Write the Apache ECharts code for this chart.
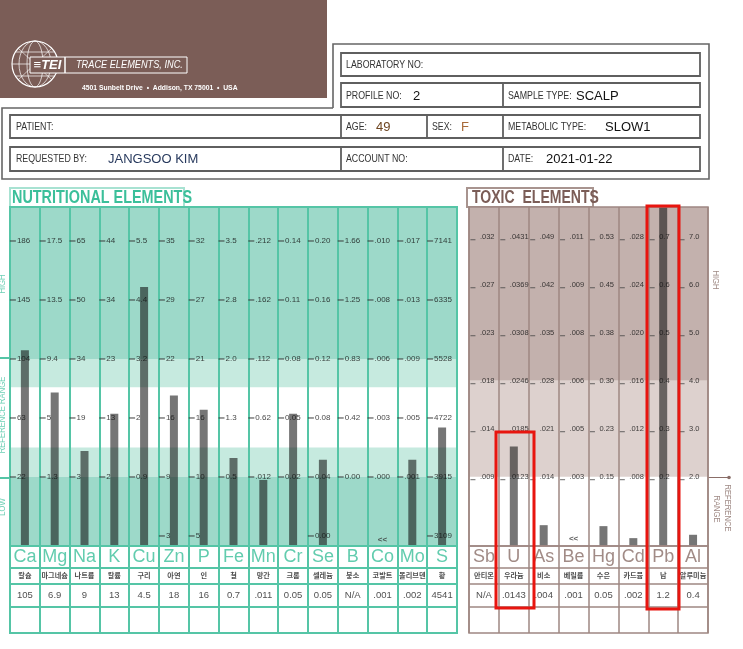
<!DOCTYPE html>
<html>
<head>
<meta charset="utf-8">
<title>Hair mineral analysis</title>
<script src="https://cdn.jsdelivr.net/npm/echarts@6/dist/echarts.min.js"></script>
<style>
  html, body { margin: 0; padding: 0; background: #fff; }
  #chart { width: 743px; height: 649px; }
</style>
</head>
<body>
<div id="chart"></div>
<script>
// ---- nutritional elements ----
const nutSymbols = ['Ca', 'Mg', 'Na', 'K', 'Cu', 'Zn', 'P', 'Fe', 'Mn', 'Cr', 'Se', 'B', 'Co', 'Mo', 'S'];
const nutKorean = ['칼슘', '마그네슘', '나트륨', '칼륨', '구리', '아연', '인', '철', '망간', '크롬', '셀레늄', '붕소', '코발트', '몰리브덴', '황'];
const nutResults = ['105', '6.9', '9', '13', '4.5', '18', '16', '0.7', '.011', '0.05', '0.05', 'N/A', '.001', '.002', '4541'];
// bar tops, in row units (row 2 = "22" line of Ca, row 6 = "186" line)
const nutLevels = [4.15, 3.43, 2.44, 3.07, 5.22, 3.38, 3.14, 2.32, 1.95, 3.07, 2.29, null, null, 2.29, 2.84];
// printed scale of every column, rows 6 -> 2
const nutTicks = [
  ['186', '145', '104', '63', '22'],
  ['17.5', '13.5', '9.4', '5', '1.3'],
  ['65', '50', '34', '19', '3'],
  ['44', '34', '23', '13', '2'],
  ['5.5', '4.4', '3.2', '2', '0.9'],
  ['35', '29', '22', '16', '9'],
  ['32', '27', '21', '16', '10'],
  ['3.5', '2.8', '2.0', '1.3', '0.5'],
  ['.212', '.162', '.112', '0.62', '.012'],
  ['0.14', '0.11', '0.08', '0.05', '0.02'],
  ['0.20', '0.16', '0.12', '0.08', '0.04'],
  ['1.66', '1.25', '0.83', '0.42', '0.00'],
  ['.010', '.008', '.006', '.003', '.000'],
  ['.017', '.013', '.009', '.005', '.001'],
  ['7141', '6335', '5528', '4722', '3915']
];
// row 1 labels, only printed on a few columns
const nutLowTicks = ['', '', '', '', '', '3', '5', '', '', '', '0.00', '', '', '', '3109'];
const nutBelow = ['', '', '', '', '', '', '', '', '', '', '', '', '<<', '', ''];

// ---- toxic elements ----
const toxSymbols = ['Sb', 'U', 'As', 'Be', 'Hg', 'Cd', 'Pb', 'Al'];
const toxKorean = ['안티몬', '우라늄', '비소', '베릴륨', '수은', '카드뮴', '납', '알루미늄'];
const toxResults = ['N/A', '.0143', '.004', '.001', '0.05', '.002', '1.2', '0.4'];
// bar tops in row units (row 2 = "2.0" line of Al, row 7 = "7.0")
const toxLevels = [null, 2.63, 0.99, null, 0.97, 0.72, 12, 0.79];
// rows 7 -> 2
const toxTicks = [
  ['.032', '.027', '.023', '.018', '.014', '.009'],
  ['.0431', '.0369', '.0308', '.0246', '.0185', '.0123'],
  ['.049', '.042', '.035', '.028', '.021', '.014'],
  ['.011', '.009', '.008', '.006', '.005', '.003'],
  ['0.53', '0.45', '0.38', '0.30', '0.23', '0.15'],
  ['.028', '.024', '.020', '.016', '.012', '.008'],
  ['0.7', '0.6', '0.5', '0.4', '0.3', '0.2'],
  ['7.0', '6.0', '5.0', '4.0', '3.0', '2.0']
];
const toxBelow = ['', '', '', '<<', '', '', '', ''];

// ---- header fields ----
const fieldLabels = ['LABORATORY NO:', 'PROFILE NO:', 'SAMPLE TYPE:', 'PATIENT:', 'AGE:', 'SEX:', 'METABOLIC TYPE:', 'REQUESTED BY:', 'ACCOUNT NO:', 'DATE:'];
const fieldValues = ['', '2', 'SCALP', '', '49', 'F', 'SLOW1', 'JANGSOO KIM', '', '2021-01-22'];

const SANS = "'Liberation Sans',Arial,sans-serif";
const KR = "'Noto Sans CJK KR',sans-serif";

const TEAL_LINE = '#55c5a6', TEAL_DARK = '#9dd9c9', TEAL_LIGHT = '#c6eadf', TEAL_TEXT = '#3bbf9a';
const BROWN_LINE = '#9e8782', BROWN_DARK = '#c3b1ad', BROWN_LIGHT = '#ddd1ce', BROWN_TEXT = '#8a6e68';
const BAR = 'rgba(10,10,10,0.56)';

// axis extents of the two panels in row units
const NUT_MIN = 0.83, NUT_MAX = 6.576;
const TOX_MIN = 0.556, TOX_MAX = 7.62;

function tickData(ticks, topRow) {
  const out = [];
  ticks.forEach((col, i) => col.forEach((t, r) => out.push({ value: [i, topRow - r], t: t })));
  return out;
}
const nutTickData = tickData(nutTicks, 6);
nutLowTicks.forEach((t, i) => { if (t) nutTickData.push({ value: [i, 1], t: t }); });
const toxTickData = tickData(toxTicks, 7);

function textSeries(xi, yi, data, label, extra) {
  return Object.assign({
    type: 'scatter', xAxisIndex: xi, yAxisIndex: yi, symbolSize: 0, silent: true, z: 5,
    data: data,
    label: Object.assign({ show: true, formatter: p => p.data.t, position: 'inside' }, label)
  }, extra || {});
}
function tableData(list, row) {
  return list.map((t, i) => ({ value: [i, row], t: t }));
}
function belowData(list, row) {
  const out = [];
  list.forEach((t, i) => { if (t) out.push({ value: [i, row], t: t }); });
  return out;
}
function rowLines(color, w) {
  return {
    silent: true, symbol: ['none', 'none'], label: { show: false },
    lineStyle: { color: color, width: w, type: 'solid' },
    data: [{ yAxis: 21.7 }, { yAxis: 37.3 }, { yAxis: 60.7 }]
  };
}

const catAxis = (gi, data, color, w) => ({
  gridIndex: gi, type: 'category', data: data, z: 3,
  axisLine: { show: false }, axisTick: { show: false }, axisLabel: { show: false },
  splitLine: { show: true, lineStyle: { color: color, width: w } }
});

// header graphics
const G = [];
G.push({ type: 'rect', shape: { x: 0, y: 0, width: 327, height: 98 }, style: { fill: '#7b5d57' } });
G.push({ type: 'circle', shape: { cx: 35, cy: 64, r: 23 }, style: { fill: 'none', stroke: '#fff', lineWidth: 1.2 } });
[8, 16].forEach(rx => G.push({ type: 'ellipse', shape: { cx: 35, cy: 64, rx: rx, ry: 23 }, style: { fill: 'none', stroke: '#fff', lineWidth: 0.7 } }));
[[-12, 19.6], [0, 23], [12, 19.6]].forEach(d => G.push({ type: 'line', shape: { x1: 35 - d[1], y1: 64 + d[0], x2: 35 + d[1], y2: 64 + d[0] }, style: { stroke: '#fff', lineWidth: 0.7 } }));
G.push({ type: 'line', shape: { x1: 18, y1: 48, x2: 52, y2: 80 }, style: { stroke: '#fff', lineWidth: 0.6 } });
G.push({ type: 'line', shape: { x1: 52, y1: 48, x2: 18, y2: 80 }, style: { stroke: '#fff', lineWidth: 0.6 } });
G.push({ type: 'rect', shape: { x: 30, y: 57, width: 35, height: 16 }, style: { fill: '#7b5d57', stroke: '#fff', lineWidth: 1 } });
G.push({ type: 'rect', shape: { x: 65, y: 57, width: 122, height: 16 }, style: { fill: 'none', stroke: '#fff', lineWidth: 1 } });
G.push({ type: 'text', x: 47.5, y: 65.5, style: { text: '≡TEI', fill: '#fff', fontSize: 13, fontWeight: 'bold', fontStyle: 'italic', fontFamily: SANS, align: 'center', verticalAlign: 'middle' } });
G.push({ type: 'text', x: 76, y: 65.5, scaleX: 0.92, style: { text: 'TRACE ELEMENTS, INC.', fill: '#fff', fontSize: 10, fontStyle: 'italic', fontFamily: SANS, verticalAlign: 'middle' } });
G.push({ type: 'text', x: 82, y: 88, scaleX: 0.85, style: { text: '4501 Sunbelt Drive  •  Addison, TX 75001  •  USA', fill: '#fff', fontSize: 8, fontWeight: 'bold', fontFamily: SANS, verticalAlign: 'middle' } });

// form frame
G.push({ type: 'polyline', shape: { points: [[333, 108], [333, 44], [709, 44], [709, 179], [2, 179], [2, 108], [333, 108]] }, style: { fill: 'none', stroke: '#666', lineWidth: 1.6 } });
const boxStyle = { fill: 'none', stroke: '#5f5f5f', lineWidth: 1.8 };
[[341, 53, 359, 23], [341, 83, 359, 24], [10, 115, 690, 23], [10, 147, 690, 24]].forEach(b =>
  G.push({ type: 'rect', shape: { x: b[0], y: b[1], width: b[2], height: b[3] }, style: boxStyle }));
[[503, 83, 107], [341, 115, 138], [427, 115, 138], [503, 115, 138], [341, 147, 171], [503, 147, 171]].forEach(l =>
  G.push({ type: 'line', shape: { x1: l[0], y1: l[1], x2: l[0], y2: l[2] }, style: { stroke: '#5f5f5f', lineWidth: 1.8 } }));
const labelPos = [[346, 65], [346, 95.5], [508, 95.5], [16, 127], [346, 127], [432, 127], [508, 127], [16, 159], [346, 159], [508, 159]];
const valuePos = [null, [413, 96.5], [576, 96.5], null, [376, 127.5], [461, 127.5], [605, 127.5], [108, 159.5], null, [546, 159.5]];
const valueColor = ['#111', '#111', '#111', '#111', '#6e4520', '#a86a3a', '#111', '#283a5e', '#111', '#111'];
fieldLabels.forEach((t, i) => {
  G.push({ type: 'text', x: labelPos[i][0], y: labelPos[i][1], scaleX: 0.8, style: { text: t, fill: '#333', fontSize: 11, fontFamily: SANS, verticalAlign: 'middle' } });
  if (valuePos[i] && fieldValues[i]) {
    G.push({ type: 'text', x: valuePos[i][0], y: valuePos[i][1], style: { text: fieldValues[i], fill: valueColor[i], fontSize: 13, fontFamily: SANS, verticalAlign: 'middle' } });
  }
});

// section titles
G.push({ type: 'rect', shape: { x: 10, y: 188, width: 174, height: 19 }, style: { fill: 'none', stroke: '#a8e2d2', lineWidth: 2 } });
G.push({ type: 'text', x: 12, y: 198, scaleX: 0.8, style: { text: 'NUTRITIONAL ELEMENTS', fill: TEAL_TEXT, fontSize: 18, fontWeight: 'bold', fontFamily: SANS, verticalAlign: 'middle' } });
G.push({ type: 'rect', shape: { x: 467, y: 188, width: 126, height: 19 }, style: { fill: 'none', stroke: '#a8948f', lineWidth: 2 } });
G.push({ type: 'text', x: 472, y: 198, scaleX: 0.78, style: { text: 'TOXIC  ELEMENTS', fill: '#7b5d57', fontSize: 18, fontWeight: 'bold', fontFamily: SANS, verticalAlign: 'middle' } });

// side captions
const sideTeal = { fill: '#6fd0b6', fontSize: 9, fontFamily: SANS, align: 'center', verticalAlign: 'middle' };
[['HIGH', 284], ['REFERENCE RANGE', 415], ['LOW', 507]].forEach(s =>
  G.push({ type: 'text', x: 3, y: s[1], rotation: Math.PI / 2, scaleX: 0.85, style: Object.assign({ text: s[0] }, sideTeal) }));
[358, 478].forEach(y => G.push({ type: 'line', shape: { x1: 0, y1: y, x2: 10, y2: y }, style: { stroke: TEAL_LINE, lineWidth: 2 } }));
const sideBrown = { fill: '#a08b86', fontSize: 9, fontFamily: SANS, align: 'center', verticalAlign: 'middle' };
G.push({ type: 'text', x: 715, y: 280, rotation: -Math.PI / 2, scaleX: 0.85, style: Object.assign({ text: 'HIGH' }, sideBrown) });
G.push({ type: 'text', x: 727, y: 508, rotation: -Math.PI / 2, scaleX: 0.85, style: Object.assign({ text: 'REFERENCE' }, sideBrown) });
G.push({ type: 'text', x: 716, y: 509, rotation: -Math.PI / 2, scaleX: 0.85, style: Object.assign({ text: 'RANGE' }, sideBrown) });
G.push({ type: 'line', shape: { x1: 708, y1: 477.5, x2: 729, y2: 477.5 }, style: { stroke: '#8a6e68', lineWidth: 1 } });
G.push({ type: 'circle', shape: { cx: 729, cy: 477.5, r: 1.8 }, style: { fill: '#8a6e68' } });

// red highlight frames around the flagged toxic columns (U, Pb)
const redStyle = { fill: 'none', stroke: '#e8150f', lineWidth: 3 };
G.push({ type: 'rect', z: 20, shape: { x: 496, y: 432, width: 38, height: 176 }, style: redStyle });
G.push({ type: 'rect', z: 20, shape: { x: 647, y: 206, width: 32, height: 403 }, style: redStyle });

const option = {
  animation: false,
  textStyle: { fontFamily: SANS },
  grid: [
    { left: 10, top: 207, width: 447, height: 339, show: true, z: 3, borderColor: TEAL_LINE, borderWidth: 2, backgroundColor: 'transparent' },
    { left: 10, top: 546, width: 447, height: 87, show: true, z: 3, borderColor: TEAL_LINE, borderWidth: 2, backgroundColor: 'transparent' },
    { left: 469, top: 207, width: 239, height: 339, show: true, z: 3, borderColor: BROWN_LINE, borderWidth: 1.5, backgroundColor: 'transparent' },
    { left: 469, top: 546, width: 239, height: 87, show: true, z: 3, borderColor: BROWN_LINE, borderWidth: 1.5, backgroundColor: 'transparent' }
  ],
  xAxis: [
    catAxis(0, nutSymbols, TEAL_LINE, 2),
    catAxis(1, nutSymbols, TEAL_LINE, 2),
    catAxis(2, toxSymbols, BROWN_LINE, 1.5),
    catAxis(3, toxSymbols, BROWN_LINE, 1.5)
  ],
  yAxis: [
    { gridIndex: 0, type: 'value', min: NUT_MIN, max: NUT_MAX, show: false },
    { gridIndex: 1, type: 'value', min: 0, max: 87, inverse: true, show: false },
    { gridIndex: 2, type: 'value', min: TOX_MIN, max: TOX_MAX, show: false },
    { gridIndex: 3, type: 'value', min: 0, max: 87, inverse: true, show: false }
  ],
  series: [
    {
      type: 'bar', xAxisIndex: 0, yAxisIndex: 0, data: nutLevels, barWidth: 8, clip: true, silent: true,
      itemStyle: { color: BAR },
      markArea: {
        silent: true,
        data: [
          [{ yAxis: 4, itemStyle: { color: TEAL_DARK } }, { yAxis: NUT_MAX }],
          [{ yAxis: 3.52, itemStyle: { color: TEAL_LIGHT } }, { yAxis: 4 }],
          [{ yAxis: 2, itemStyle: { color: TEAL_LIGHT } }, { yAxis: 2.5 }],
          [{ yAxis: NUT_MIN, itemStyle: { color: TEAL_DARK } }, { yAxis: 2 }]
        ]
      }
    },
    {
      type: 'scatter', xAxisIndex: 0, yAxisIndex: 0, silent: true, z: 4,
      symbol: 'rect', symbolSize: [6, 1.2], symbolOffset: [-12, 0], itemStyle: { color: '#333' },
      data: nutTickData.map(d => d.value)
    },
    textSeries(0, 0, nutTickData, { align: 'left', offset: [-8, 0], fontSize: 8, fontFamily: SANS, color: '#111' }),
    textSeries(0, 0, belowData(nutBelow, 0.93), { fontSize: 8, fontWeight: 'bold', color: '#333' }),
    {
      type: 'bar', xAxisIndex: 2, yAxisIndex: 2, data: toxLevels, barWidth: 8, clip: true, silent: true,
      itemStyle: { color: BAR },
      markArea: {
        silent: true,
        data: [
          [{ yAxis: 4, itemStyle: { color: BROWN_DARK } }, { yAxis: TOX_MAX }],
          [{ yAxis: 2, itemStyle: { color: BROWN_LIGHT } }, { yAxis: 4 }]
        ]
      }
    },
    {
      type: 'scatter', xAxisIndex: 2, yAxisIndex: 2, silent: true, z: 4,
      symbol: 'rect', symbolSize: [5, 1], symbolOffset: [-11, 3], itemStyle: { color: '#444' },
      data: toxTickData.map(d => d.value)
    },
    textSeries(2, 2, toxTickData, { align: 'left', offset: [-4, 0], fontSize: 7.5, fontFamily: SANS, color: '#111' }),
    textSeries(2, 2, belowData(toxBelow, 0.7), { fontSize: 8, fontWeight: 'bold', color: '#333' }),
    // tables
    textSeries(1, 1, tableData(nutSymbols, 11.5), { fontSize: 18, fontFamily: SANS, color: TEAL_TEXT }, { markLine: rowLines(TEAL_LINE, 2) }),
    textSeries(1, 1, tableData(nutKorean, 29.5), { fontSize: 7.2, fontWeight: 'bold', fontFamily: KR, color: '#222' }),
    textSeries(1, 1, tableData(nutResults, 49), { fontSize: 9.5, fontFamily: SANS, color: '#222' }),
    textSeries(3, 3, tableData(toxSymbols, 11.5), { fontSize: 18, fontFamily: SANS, color: BROWN_TEXT }, { markLine: rowLines(BROWN_LINE, 1.5) }),
    textSeries(3, 3, tableData(toxKorean, 29.5), { fontSize: 7.2, fontWeight: 'bold', fontFamily: KR, color: '#222' }),
    textSeries(3, 3, tableData(toxResults, 49), { fontSize: 9.5, fontFamily: SANS, color: '#222' })
  ],
  graphic: { elements: G }
};

const chart = echarts.init(document.getElementById('chart'), null, { renderer: 'canvas' });
chart.setOption(option);
</script>
</body>
</html>
